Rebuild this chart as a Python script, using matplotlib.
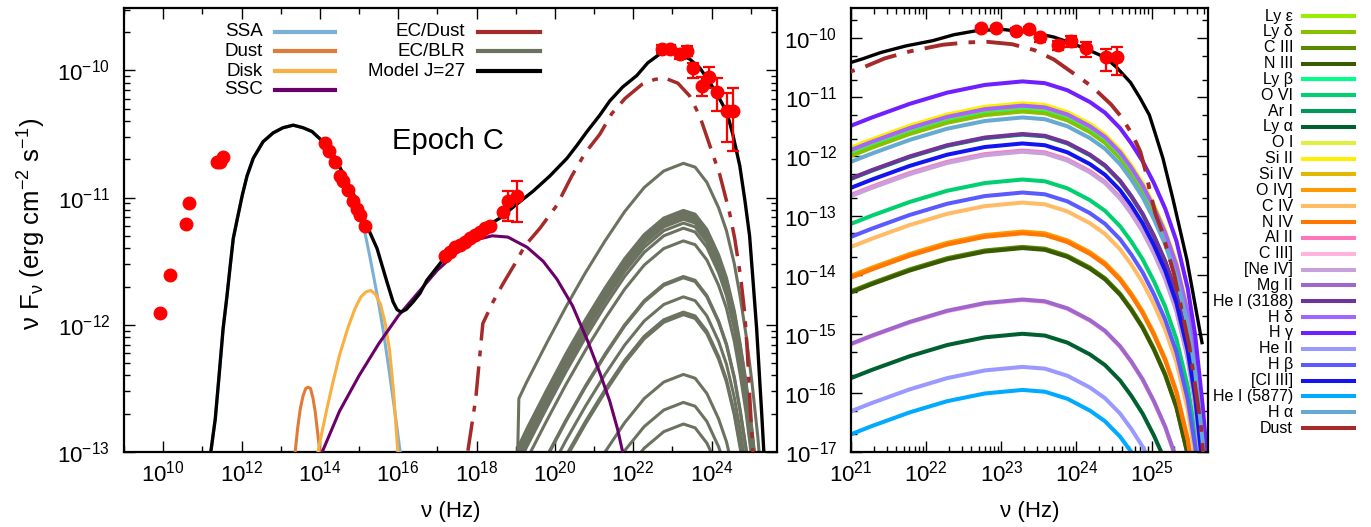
import matplotlib
matplotlib.use("Agg")
import matplotlib.pyplot as plt
import numpy as np
from matplotlib.ticker import FixedLocator, FuncFormatter, NullFormatter

# all values are log10(nu / Hz) and log10(nu F_nu / erg cm^-2 s^-1)

# observed SED points without visible error bars
obs_lognu = [9.92, 10.18, 10.59, 10.66, 11.38, 11.45, 11.53,
             14.13, 14.23, 14.39, 14.52, 14.59, 14.72, 14.85, 14.95, 15.03, 15.15,
             17.19, 17.32, 17.45, 17.58, 17.70, 17.83, 17.96, 18.09, 18.21, 18.34, 18.67]
obs_logf = [-11.91, -11.61, -11.21, -11.04, -10.72, -10.72, -10.68,
            -10.57, -10.63, -10.72, -10.83, -10.87, -10.94, -11.03, -11.09, -11.14, -11.22,
            -11.46, -11.43, -11.39, -11.37, -11.35, -11.32, -11.29, -11.27, -11.24, -11.22, -11.11]

# points with error bars (hard X-ray + Fermi)
err_lognu = [18.80, 19.03, 22.73, 22.93, 23.19, 23.37, 23.52, 23.75, 23.93, 24.13, 24.39, 24.54]
err_logf = [-11.03, -10.99, -9.83, -9.83, -9.87, -9.85, -9.98, -10.12, -10.05, -10.17, -10.32, -10.32]
err_loghi = [-10.95, -10.87, -9.80, -9.80, -9.83, -9.81, -9.94, -10.05, -9.97, -10.06, -10.18, -10.14]
err_loglo = [-11.18, -11.19, -9.86, -9.86, -9.91, -9.89, -10.06, -10.20, -10.14, -10.32, -10.56, -10.63]

# model components
ssa_lognu = [11.22, 11.33, 11.43, 11.53, 11.63, 11.71, 11.79, 11.89, 12.02, 12.14, 12.30, 12.55,
             12.81, 13.06, 13.32, 13.57, 13.80, 14.01, 14.26, 14.44, 14.69, 14.95, 15.1, 15.28,
             15.46, 15.61, 15.75, 15.9, 16.05]
ssa_logf = [-12.99, -12.74, -12.39, -12.03, -11.77, -11.54, -11.32, -11.17, -10.98, -10.83, -10.69,
            -10.56, -10.49, -10.45, -10.43, -10.45, -10.48, -10.54, -10.61, -10.72, -10.87, -11.04,
            -11.2, -11.47, -11.76, -12.03, -12.32, -12.65, -13.0]

dust_th_lognu = [13.37, 13.43, 13.5, 13.57, 13.64, 13.7, 13.76, 13.82, 13.88, 13.94, 14.0]
dust_th_logf = [-13.0, -12.82, -12.66, -12.56, -12.5, -12.49, -12.5, -12.57, -12.68, -12.84, -13.0]

disk_lognu = [13.95, 14.05, 14.18, 14.32, 14.5, 14.72, 14.9, 15.05, 15.18, 15.3, 15.42, 15.55,
              15.67, 15.78, 15.88, 15.99]
disk_logf = [-13.0, -12.85, -12.66, -12.47, -12.24, -12.02, -11.87, -11.78, -11.74, -11.73, -11.76,
             -11.84, -11.99, -12.2, -12.52, -13.0]

ssc_lognu = [14.06, 14.5, 15.0, 15.5, 16.0, 16.5, 17.0, 17.5, 18.0, 18.4, 18.8, 19.29, 19.7,
             20.05, 20.45, 20.84, 21.15, 21.4, 21.6, 21.73]
ssc_logf = [-13.0, -12.68, -12.4, -12.15, -11.93, -11.75, -11.57, -11.43, -11.33, -11.30, -11.31,
            -11.39, -11.5, -11.64, -11.85, -12.13, -12.38, -12.6, -12.82, -13.0]

ecdust_lognu = [17.78, 17.98, 18.16, 18.42, 18.67, 18.98, 19.23, 19.62, 20.05, 20.43, 20.77, 21.15,
                21.45, 21.79, 22.22, 22.55, 22.81, 23.14, 23.44, 23.70, 23.90, 24.21, 24.46,
                24.59, 24.74, 24.85, 24.92, 24.98, 25.05, 25.13, 25.3, 25.5, 25.65, 25.72]
ecdust_logf = [-12.99, -12.58, -11.99, -11.82, -11.68, -11.52, -11.38, -11.24, -11.06, -10.83, -10.65,
               -10.50, -10.34, -10.22, -10.11, -10.07, -10.06, -10.10, -10.20, -10.36, -10.54, -10.82,
               -11.12, -11.32, -11.62, -11.92, -12.25, -12.6, -12.97, -13.24, -14.0, -15.2, -16.5,
               -17.5]

model_lognu = [11.22, 11.33, 11.43, 11.53, 11.63, 11.71, 11.79, 11.89, 12.02, 12.14, 12.30, 12.55,
               12.81, 13.06, 13.32, 13.57, 13.80, 14.01, 14.26, 14.44, 14.69, 14.95, 15.20, 15.46,
               15.71, 15.87, 15.97, 16.07, 16.2, 16.38, 16.56, 16.73, 16.96, 17.19, 17.53, 17.83,
               18.09, 18.34, 18.60, 19.03, 19.44, 19.87, 20.31, 20.56, 20.82, 21.15, 21.40, 21.73,
               22.09, 22.37, 22.68, 23.01, 23.44, 23.70, 23.88, 24.13, 24.39, 24.54, 24.72, 24.85,
               24.97, 25.05, 25.15, 25.28, 25.47, 25.67]
model_logf = [-12.99, -12.74, -12.39, -12.03, -11.77, -11.54, -11.32, -11.17, -10.98, -10.83, -10.69,
              -10.56, -10.49, -10.45, -10.43, -10.45, -10.48, -10.54, -10.61, -10.72, -10.87, -11.03,
              -11.22, -11.40, -11.66, -11.82, -11.88, -11.90, -11.88, -11.82, -11.75, -11.65, -11.56,
              -11.47, -11.39, -11.32, -11.27, -11.21, -11.16, -11.05, -10.95, -10.83, -10.69, -10.59,
              -10.48, -10.35, -10.24, -10.13, -10.04, -9.94, -9.87, -9.85, -9.91, -9.98, -10.06,
              -10.18, -10.33, -10.5, -10.75, -11.02, -11.3, -11.62, -12.03, -12.7, -13.75, -15.15]

# EC/BLR lines: common spectral shape (offset from peak) and peak level of each line
blr_peak_lognu = 23.28
blr_shape_dlognu = [-4.35, -4.2, -4.0, -3.5, -3.0, -2.5, -2.0, -1.5, -1.0, -0.5, 0.0, 0.3, 0.6,
                    0.9, 1.1, 1.3, 1.45, 1.6, 1.75, 1.9, 2.05, 2.2, 2.3, 2.4, 2.5]
blr_shape_dex = [-4.0, -1.85, -1.72, -1.42, -1.13, -0.86, -0.61, -0.38, -0.19, -0.06, 0.0, -0.03,
                 -0.15, -0.35, -0.53, -0.79, -1.05, -1.35, -1.72, -2.15, -2.7, -3.5, -4.3, -5.5, -7.0]

blr_names = ["Ly ε", "Ly δ", "C III", "N III", "Ly β", "O VI", "Ar I", "Ly α", "O I", "Si II",
             "Si IV", "O IV]", "C IV", "N IV", "Al II", "C III]", "[Ne IV]", "Mg II", "He I (3188)",
             "H δ", "H γ", "He II", "H β", "[Cl III]", "He I (5877)", "H α"]
blr_colors = ["#99ee00", "#88c000", "#5a8a00", "#3a5a00", "#00ff88", "#00d070", "#00995a",
              "#006030", "#e0f040", "#ffee00", "#e0b800", "#ff9900", "#ffbb66", "#ff7700",
              "#ff77bb", "#ffb3dd", "#c8a0dc", "#a066cc", "#703399", "#a066ff", "#7020ff",
              "#9999ff", "#5a5aff", "#1414f0", "#00aaff", "#66aad2"]
blr_logpeak = [-11.20, -11.24, -13.53, -13.55, -11.17, -12.39, -11.63, -15.0, -11.12, -11.10,
               -11.15, -13.27, -12.78, -13.30, -11.90, -14.43, -11.92, -14.42, -11.62, -11.14,
               -10.73, -15.56, -12.61, -11.78, -15.95, -11.34]


def p10(a):
    return np.power(10.0, np.asarray(a, dtype=float))


def blr_curve(logpeak):
    return p10(blr_peak_lognu + np.asarray(blr_shape_dlognu)), p10(logpeak + np.asarray(blr_shape_dex))


def decade_fmt(v, pos):
    return r"$\mathdefault{10^{%d}}$" % int(round(np.log10(v)))


def decade_ticks(lo, hi, subs, vmax=None):
    # ticks only inside the visible range
    out = [m * 10.0 ** e for e in range(lo, hi + 1) for m in subs]
    if vmax is not None:
        out = [t for t in out if t <= vmax]
    return out


def draw_points(ax):
    ax.plot(p10(obs_lognu), p10(obs_logf), "o", color="red", ms=9, mec="red", zorder=10)
    y = p10(err_logf)
    yerr = [y - p10(err_loglo), p10(err_loghi) - y]
    ax.errorbar(p10(err_lognu), y, yerr=yerr, fmt="o", color="red", ms=9, elinewidth=1.6,
                capsize=4.5, capthick=1.6, zorder=10)


def style_axis(ax):
    for s in ax.spines.values():
        s.set_linewidth(1.6)
    ax.tick_params(which="both", direction="in", top=True, right=True, labelsize=16)
    ax.tick_params(which="major", length=8, width=1.0)
    ax.tick_params(which="minor", length=4, width=1.0)
    ax.xaxis.set_major_formatter(FuncFormatter(decade_fmt))
    ax.yaxis.set_major_formatter(FuncFormatter(decade_fmt))
    ax.xaxis.set_minor_formatter(NullFormatter())
    ax.yaxis.set_minor_formatter(NullFormatter())
    ax.tick_params(axis="x", pad=6)
    ax.tick_params(axis="y", pad=10)


def main() -> None:
    plt.rcParams["font.family"] = ["Liberation Sans", "DejaVu Sans"]
    plt.rcParams["mathtext.fontset"] = "custom"
    plt.rcParams["mathtext.rm"] = "Liberation Sans"
    plt.rcParams["mathtext.it"] = "Liberation Sans:italic"
    plt.rcParams["mathtext.default"] = "regular"

    fig = plt.figure(figsize=(13.71, 5.27), dpi=100)
    W, H = 1371.0, 527.0
    ax1 = fig.add_axes([124 / W, 1 - 452 / H, 653 / W, 444 / H])
    ax2 = fig.add_axes([851 / W, 1 - 452 / H, 357 / W, 444 / H])

    gray = "#6b7360"
    brown = "#a52a2a"
    dashdot = (0, (8.5, 2.9, 1.7, 2.9))

    # left panel: full SED
    for lp in blr_logpeak:
        x, y = blr_curve(lp)
        ax1.plot(x, y, color=gray, lw=2.2, zorder=2)
    ax1.plot(p10(ssa_lognu), p10(ssa_logf), color="#7bafd4", lw=2.2, zorder=3)
    ax1.plot(p10(dust_th_lognu), p10(dust_th_logf), color="#e07b39", lw=2.2, zorder=3)
    ax1.plot(p10(disk_lognu), p10(disk_logf), color="#f8b040", lw=2.2, zorder=3)
    ax1.plot(p10(ssc_lognu), p10(ssc_logf), color="#6a006a", lw=2.2, zorder=3)
    ax1.plot(p10(ecdust_lognu), p10(ecdust_logf), color=brown, lw=2.5, ls=dashdot, zorder=4)
    ax1.plot(p10(model_lognu), p10(model_logf), color="black", lw=2.4, zorder=5)
    draw_points(ax1)

    ax1.set_xscale("log")
    ax1.set_yscale("log")
    ax1.set_xlim(1e9, 10 ** 25.67)
    ax1.set_ylim(1e-13, 3.1e-10)
    ax1.xaxis.set_major_locator(FixedLocator(p10(np.arange(10, 25, 2))))
    ax1.xaxis.set_minor_locator(FixedLocator(p10(np.arange(9, 26, 2))))
    ax1.yaxis.set_major_locator(FixedLocator(decade_ticks(-13, -10, [1])))
    ax1.yaxis.set_minor_locator(FixedLocator(decade_ticks(-13, -10, range(2, 10), 3.1e-10)))
    style_axis(ax1)
    ax1.text(0.496, 0.70, "Epoch C", transform=ax1.transAxes, fontsize=21, ha="center", va="center")

    # left legend (labels right-aligned, sample after)
    rows = [1 - (y - 8) / 444 for y in (32, 51, 71, 90)]
    leg1 = [("SSA", "#7bafd4"), ("Dust", "#e07b39"), ("Disk", "#f8b040"), ("SSC", "#6a006a")]
    leg2 = [("EC/Dust", brown), ("EC/BLR", gray), ("Model J=27", "black")]
    for (lab, c), yy in zip(leg1, rows):
        ax1.text(0.213, yy, lab, transform=ax1.transAxes, ha="right", va="center", fontsize=13.5)
        ax1.plot([0.231, 0.323], [yy, yy], transform=ax1.transAxes, color=c, lw=3, clip_on=False)
    for (lab, c), yy in zip(leg2, rows):
        ax1.text(0.522, yy, lab, transform=ax1.transAxes, ha="right", va="center", fontsize=13.5)
        ax1.plot([0.542, 0.637], [yy, yy], transform=ax1.transAxes, color=c, lw=3, clip_on=False)

    # right panel: gamma-ray zoom with individual BLR lines
    for lp, c in zip(blr_logpeak, blr_colors):
        x, y = blr_curve(lp)
        ax2.plot(x, y, color=c, lw=2.9, zorder=2)
    ax2.plot(p10(ecdust_lognu), p10(ecdust_logf), color=brown, lw=2.8, ls=dashdot, zorder=4)
    ax2.plot(p10(model_lognu), p10(model_logf), color="black", lw=2.4, zorder=5)
    draw_points(ax2)

    ax2.set_xscale("log")
    ax2.set_yscale("log")
    ax2.set_xlim(1e21, 10 ** 25.75)
    ax2.set_ylim(1e-17, 3.25e-10)
    ax2.xaxis.set_major_locator(FixedLocator(decade_ticks(21, 25, [1])))
    ax2.xaxis.set_minor_locator(FixedLocator(decade_ticks(21, 25, range(2, 10), 10 ** 25.75)))
    ax2.yaxis.set_major_locator(FixedLocator(decade_ticks(-17, -10, [1])))
    ax2.yaxis.set_minor_locator(FixedLocator(decade_ticks(-17, -10, (2, 5), 3.25e-10)))
    style_axis(ax2)

    # right legend outside the panel
    names = blr_names + ["Dust"]
    colors = blr_colors + [brown]
    for i, (lab, c) in enumerate(zip(names, colors)):
        yy = 1 - (16 + i * 15.85) / H
        fig.text(1293 / W, yy, lab, ha="right", va="center", fontsize=11.5)
        fig.add_artist(plt.Line2D([1303 / W, 1354 / W], [yy, yy], color=c, lw=2.9,
                                  transform=fig.transFigure))

    # axis labels
    fig.text(451 / W, 1 - 512 / H, "ν (Hz)", ha="center", va="center", fontsize=16)
    fig.text(1030 / W, 1 - 512 / H, "ν (Hz)", ha="center", va="center", fontsize=16)
    fig.text(32 / W, 1 - 224 / H, r"ν F$_{ν}$ (erg cm$^{-2}$ s$^{-1}$)", ha="center", va="center",
             rotation=90, fontsize=18.5)

    fig.savefig("out.png", dpi=100)
    plt.close(fig)


if __name__ == "__main__":
    main()
